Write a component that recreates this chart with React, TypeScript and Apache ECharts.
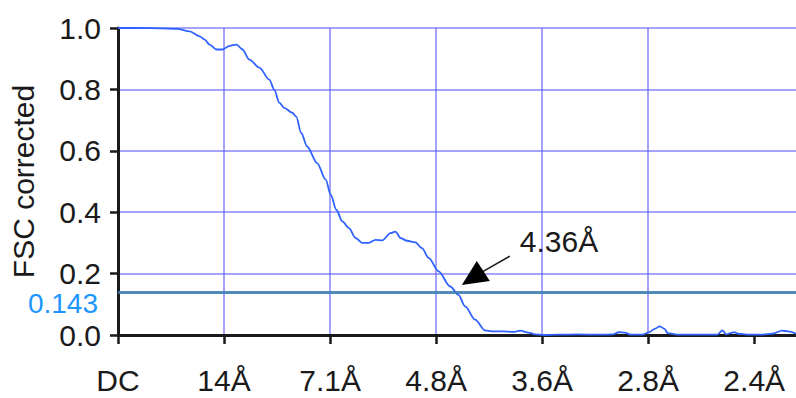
import React, { useEffect, useRef } from "react";
import * as echarts from "echarts";

// Resolution tick labels, one per shell grid line (DC at shell 0)
const tickLabels = ["DC", "14Å", "7.1Å", "4.8Å", "3.6Å", "2.8Å", "2.4Å"];
const tickShells = [0, 1, 2, 3, 4, 5, 6];

// Fourier shell position (in grid units) and corrected FSC value
const shellPos = [
  0.0, 0.2, 0.4, 0.56, 0.676, 0.77, 0.817, 0.864, 0.93, 0.986, 1.052, 1.118, 1.174, 1.239,
  1.333, 1.427, 1.474, 1.521, 1.568, 1.643, 1.681, 1.728, 1.784, 1.878, 1.959, 2.006, 2.059,
  2.116, 2.178, 2.241, 2.303, 2.366, 2.429, 2.491, 2.57, 2.617, 2.664, 2.726, 2.804, 2.867,
  2.93, 3.023, 3.133, 3.211, 3.274, 3.368, 3.462, 3.524, 3.634, 3.728, 3.793, 3.869, 3.934,
  4.009, 4.15, 4.338, 4.526, 4.667, 4.723, 4.779, 4.836, 4.948, 5.014, 5.061, 5.108, 5.155,
  5.183, 5.277, 5.465, 5.653, 5.7, 5.737, 5.775, 5.812, 5.85, 5.934, 6.075, 6.169, 6.263,
  6.319, 6.394,
];
const fscValues = [
  1.0, 1.0, 0.999, 0.997, 0.989, 0.973, 0.962, 0.946, 0.93, 0.93, 0.942, 0.946, 0.93, 0.897,
  0.871, 0.832, 0.799, 0.757, 0.74, 0.724, 0.711, 0.658, 0.614, 0.56, 0.506, 0.457, 0.408,
  0.37, 0.348, 0.316, 0.3, 0.3, 0.31, 0.308, 0.332, 0.337, 0.316, 0.307, 0.302, 0.283,
  0.251, 0.207, 0.158, 0.131, 0.093, 0.05, 0.015, 0.012, 0.012, 0.01, 0.014, 0.008, 0.002,
  0.0, 0.001, 0.002, 0.001, 0.002, 0.009, 0.008, 0.001, 0.001, 0.01, 0.02, 0.028, 0.02,
  0.006, 0.001, 0.001, 0.001, 0.015, 0.002, 0.006, 0.009, 0.004, 0.001, 0.001, 0.004, 0.014,
  0.012, 0.004,
];

const threshold = 0.143;
const thresholdLabel = "0.143";
const resolutionLabel = "4.36Å";

const FONT = "'Liberation Sans', Arial, sans-serif";
const FONT_SIZE = 30;
const GRID_LEFT = 118;
const GRID_TOP = 28;
const GRID_HEIGHT = 307;
const GRID_RIGHT = -3;
const SHELL_MAX = 6.394;

// First shell where the curve drops below the threshold (linear interpolation)
function thresholdCrossing(): number {
  for (let i = 1; i < fscValues.length; i++) {
    const a = fscValues[i - 1];
    const b = fscValues[i];
    if (a >= threshold && b < threshold) {
      const t = (a - threshold) / (a - b);
      return shellPos[i - 1] + t * (shellPos[i] - shellPos[i - 1]);
    }
  }
  return shellPos[shellPos.length - 1];
}

export default function App() {
  const ref = useRef<HTMLDivElement>(null);

  useEffect(() => {
    if (!ref.current) return;
    const chart = echarts.init(ref.current, null, { renderer: "svg" });
    const gridColor = "rgba(90, 90, 255, 0.55)";

    chart.setOption({
      animation: false,
      grid: { left: GRID_LEFT, top: GRID_TOP, height: GRID_HEIGHT, right: GRID_RIGHT },
      xAxis: {
        type: "value",
        min: 0,
        max: SHELL_MAX,
        interval: 1,
        offset: 2,
        axisLine: { show: true, lineStyle: { color: "#1a1a1a", width: 3 } },
        axisTick: {
          show: true,
          length: 9,
          customValues: tickShells,
          lineStyle: { color: "#1a1a1a", width: 2.5 },
        },
        axisLabel: {
          customValues: tickShells,
          margin: 28,
          fontFamily: FONT,
          fontSize: FONT_SIZE,
          color: "#1a1a1a",
          formatter: (v: number) => tickLabels[Math.round(v)] ?? "",
        },
        splitLine: { show: true, showMaxLine: false, lineStyle: { color: gridColor, width: 2 } },
      },
      yAxis: {
        type: "value",
        min: 0,
        max: 1,
        interval: 0.2,
        name: "FSC corrected",
        nameLocation: "middle",
        nameGap: 80,
        nameTextStyle: { fontFamily: FONT, fontSize: FONT_SIZE, color: "#1a1a1a" },
        axisLine: { show: true, lineStyle: { color: "#1a1a1a", width: 3 } },
        axisTick: { show: true, length: 8, lineStyle: { color: "#1a1a1a", width: 2.5 } },
        axisLabel: {
          margin: 17,
          fontFamily: FONT,
          fontSize: FONT_SIZE,
          color: "#1a1a1a",
          formatter: (v: number) => v.toFixed(1),
        },
        splitLine: { show: true, lineStyle: { color: gridColor, width: 2 } },
      },
      series: [
        {
          type: "line",
          data: shellPos.map((x, i) => [x, fscValues[i]]),
          showSymbol: false,
          smooth: 0.3,
          smoothMonotone: "x",
          lineStyle: { color: "#3062ff", width: 1.8 },
          markLine: {
            silent: true,
            symbol: "none",
            label: { show: false },
            lineStyle: { color: "#3f7db3", width: 3, type: "solid", opacity: 0.9 },
            data: [{ yAxis: threshold }],
          },
          z: 3,
        },
      ],
    });

    // Annotation arrow pointing at the threshold crossing, plus the threshold value label
    const cross = chart.convertToPixel({ gridIndex: 0 }, [thresholdCrossing(), threshold]) as number[];
    const tipX = cross[0] + 7;
    const tipY = cross[1] - 6;
    chart.setOption({
      graphic: [
        {
          type: "text",
          x: GRID_LEFT - 20,
          y: cross[1] + 12,
          style: {
            text: thresholdLabel,
            fill: "#1e96ff",
            font: `28px ${FONT}`,
            align: "right",
            verticalAlign: "middle",
          },
        },
        {
          type: "line",
          shape: { x1: tipX + 48, y1: tipY - 29, x2: tipX + 20, y2: tipY - 13 },
          style: { stroke: "#1a1a1a", lineWidth: 1.6 },
          z: 10,
        },
        {
          type: "polygon",
          shape: {
            points: [
              [tipX, tipY],
              [tipX + 15, tipY - 24],
              [tipX + 28, tipY - 4],
            ],
          },
          style: { fill: "#000" },
          z: 10,
        },
        {
          type: "text",
          x: tipX + 58,
          y: tipY - 44,
          style: {
            text: resolutionLabel,
            fill: "#1a1a1a",
            font: `${FONT_SIZE}px ${FONT}`,
            align: "left",
            verticalAlign: "middle",
          },
          z: 10,
        },
      ],
    });

    return () => chart.dispose();
  }, []);

  return (
    <div
      ref={ref}
      style={{ position: "fixed", left: 0, top: 0, width: 796, height: 398, background: "#fff" }}
    />
  );
}
